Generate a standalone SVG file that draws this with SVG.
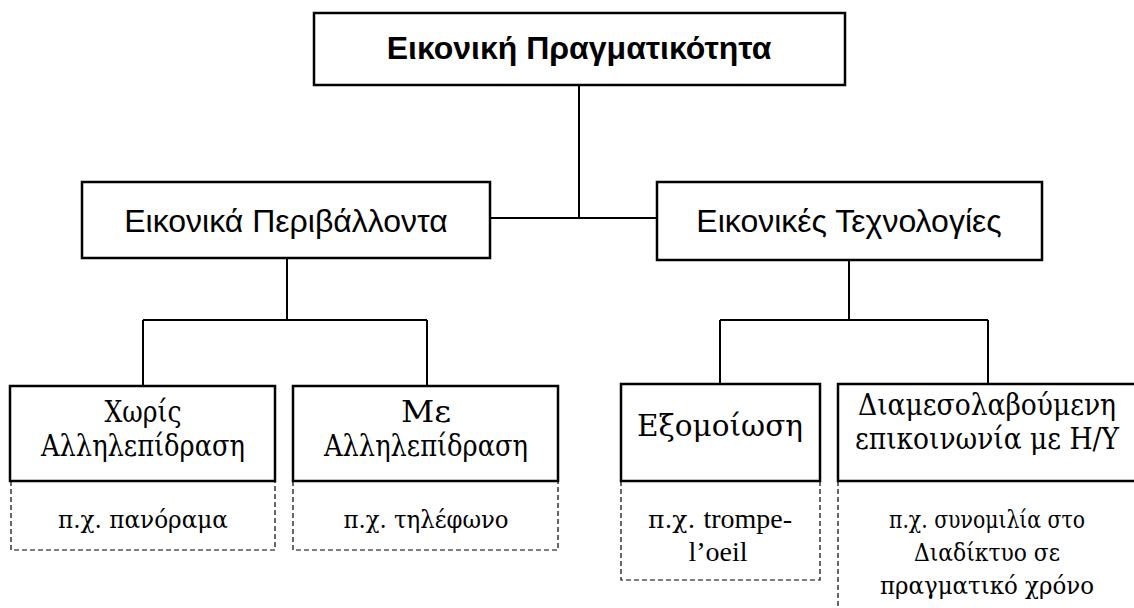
<svg xmlns="http://www.w3.org/2000/svg" width="1134" height="608" viewBox="0 0 1134 608">
<style>
.box{fill:#fff;stroke:#000;stroke-width:2.5}
.dash{fill:none;stroke:#000;stroke-width:1.2;stroke-dasharray:5,3}
.con{fill:none;stroke:#000;stroke-width:2}
.sans{font-family:"Liberation Sans",Arial,sans-serif;text-anchor:middle;fill:#000}
.serif{font-family:"DejaVu Serif","Liberation Serif","Times New Roman",serif;text-anchor:middle;fill:#000}
.lat{font-family:"Liberation Serif","Times New Roman",serif;text-anchor:middle;fill:#000}
.m{font-size:29px}
.s{font-size:25px}
</style>
<rect width="1134" height="608" fill="#fff"/>
<g id="connectors">
<path class="con" d="M579 85V218M490 218H657"/>
<path class="con" d="M287 258V320M143 320H427M143 320V386M427 320V386"/>
<path class="con" d="M849 260V320M720 320H988M720 320V384M988 320V384"/>
</g>
<g id="n-root">
<rect class="box" x="314" y="13" width="531" height="72"/>
<text class="sans" x="579" y="59" font-size="32" font-weight="bold">Εικονική Πραγματικότητα</text>
</g>
<g id="n-env">
<rect class="box" x="82" y="182" width="408" height="76"/>
<text class="sans" x="286" y="232" font-size="32">Εικονικά Περιβάλλοντα</text>
</g>
<g id="n-tech">
<rect class="box" x="657" y="182" width="385" height="78"/>
<text class="sans" x="849" y="232" font-size="32">Εικονικές Τεχνολογίες</text>
</g>
<g id="n-noint">
<rect class="box" x="10" y="386" width="265" height="95"/>
<text class="serif m" x="143" y="422" textLength="77" lengthAdjust="spacingAndGlyphs">Χωρίς</text>
<text class="serif m" x="143" y="456" textLength="204" lengthAdjust="spacingAndGlyphs">Αλληλεπίδραση</text>
</g>
<g id="n-int">
<rect class="box" x="293" y="386" width="265" height="95"/>
<text class="serif m" x="426" y="422" textLength="50" lengthAdjust="spacingAndGlyphs">Με</text>
<text class="serif m" x="426" y="456" textLength="204" lengthAdjust="spacingAndGlyphs">Αλληλεπίδραση</text>
</g>
<g id="n-sim">
<rect class="box" x="621" y="384" width="199" height="97"/>
<text class="serif m" x="720" y="436" textLength="166" lengthAdjust="spacingAndGlyphs">Εξομοίωση</text>
</g>
<g id="n-cmc">
<rect class="box" x="838" y="384" width="300" height="97"/>
<text class="serif m" x="987" y="415" textLength="258" lengthAdjust="spacingAndGlyphs">Διαμεσολαβούμενη</text>
<text class="serif m" x="987" y="449" textLength="264" lengthAdjust="spacingAndGlyphs">επικοινωνία με Η/Υ</text>
</g>
<g id="ex-noint">
<path class="dash" d="M11 481V550H275V481"/>
<text class="serif s" x="143" y="528" textLength="170" lengthAdjust="spacingAndGlyphs">π.χ. πανόραμα</text>
</g>
<g id="ex-int">
<path class="dash" d="M293 481V550H558V481"/>
<text class="serif s" x="426" y="528" textLength="165" lengthAdjust="spacingAndGlyphs">π.χ. τηλέφωνο</text>
</g>
<g id="ex-sim">
<path class="dash" d="M621 481V580H820V481"/>
<text class="serif s" x="720" y="528"><tspan>π.χ. </tspan><tspan class="lat" font-size="28">trompe-</tspan></text>
<text class="lat" x="718" y="561" font-size="28">l’oeil</text>
</g>
<g id="ex-cmc">
<path class="dash" d="M838 481V608"/>
<text class="serif s" x="987" y="528" textLength="196" lengthAdjust="spacingAndGlyphs">π.χ. συνομιλία στο</text>
<text class="serif s" x="987" y="561" textLength="146" lengthAdjust="spacingAndGlyphs">Διαδίκτυο σε</text>
<text class="serif s" x="987" y="594" textLength="214" lengthAdjust="spacingAndGlyphs">πραγματικό χρόνο</text>
</g>
</svg>
